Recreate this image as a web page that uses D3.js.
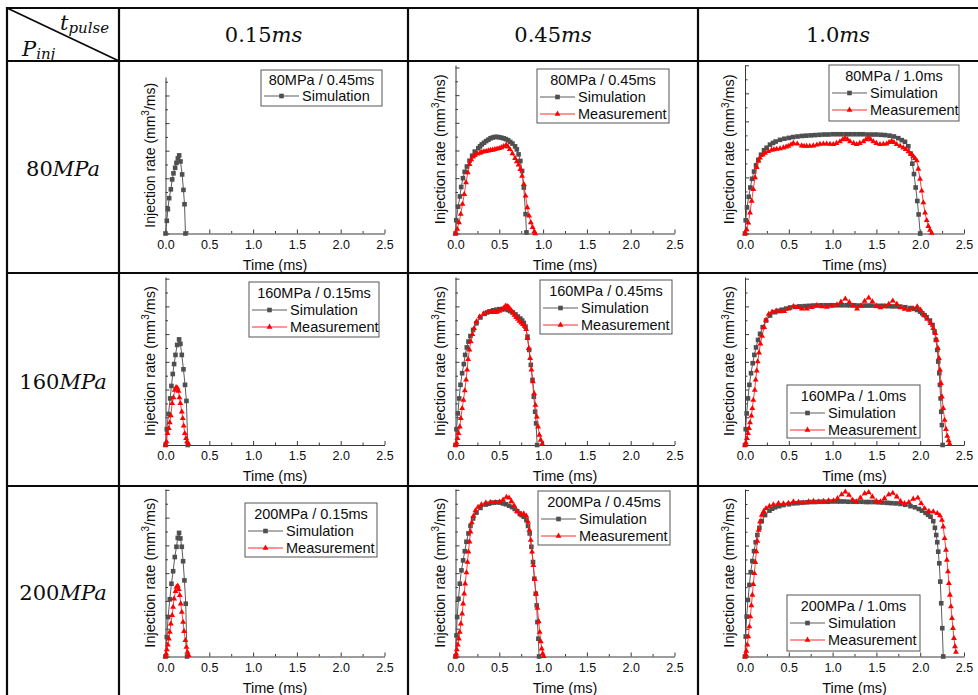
<!DOCTYPE html>
<html>
<head>
<meta charset="utf-8">
<script src="https://cdn.jsdelivr.net/npm/d3@7"></script>
<style>
  body { margin: 0; background: #fff; }
  svg text { font-family: "Liberation Sans", Arial, sans-serif; fill: #0d0d0d; }
  svg text.math { font-family: "DejaVu Serif", serif; }
</style>
</head>
<body>
<svg width="978" height="695"></svg>
<script>
// ---- data (time in ms, injection rate in mm3/ms) ----
const pulses = ['0.15', '0.45', '1.0'];
const pressures = ['80', '160', '200'];
const xTicks = [0, 0.5, 1.0, 1.5, 2.0, 2.5];
const xMinorTicks = [0.25, 0.75, 1.25, 1.75, 2.25];
const yTicks = [0, 10, 20, 30, 40, 50, 60];
const yMinorTicks = [5, 15, 25, 35, 45, 55];
const legendTitles = [
  ['80MPa / 0.45ms', '80MPa / 0.45ms', '80MPa / 1.0ms'],
  ['160MPa / 0.15ms', '160MPa / 0.45ms', '160MPa / 1.0ms'],
  ['200MPa / 0.15ms', '200MPa / 0.45ms', '200MPa / 1.0ms']
];

const sim80_015 = [[0,0],[0.015,4.6],[0.027,8.8],[0.042,12.8],[0.061,16.0],[0.076,19.6],[0.091,21.8],[0.110,23.8],
  [0.125,25.6],[0.141,27.2],[0.156,28.3],[0.171,26.1],[0.190,21.4],[0.205,15.8],[0.217,10.6],[0.228,0]];

const sim80_045 = [[0,0],[0.008,4.8],[0.03,9.7],[0.05,13.4],[0.065,16.8],[0.085,20.0],[0.105,22.3],[0.13,24.2],
  [0.16,26.3],[0.19,28.1],[0.22,29.6],[0.26,30.8],[0.28,31.5],[0.3,32.2],[0.325,32.8],[0.35,33.4],[0.375,33.9],
  [0.4,34.4],[0.425,34.7],[0.45,34.9],[0.475,34.9],[0.5,34.8],[0.525,34.6],[0.55,34.4],[0.575,34.1],[0.6,33.7],
  [0.625,33.1],[0.65,32.5],[0.68,31.5],[0.7,30.4],[0.72,28.6],[0.74,26.2],[0.76,22.6],[0.78,16.6],[0.8,7.0],[0.81,0.4]];
const meas80_045 = [[0,0],[0.02,1.6],[0.04,4.0],[0.06,7.0],[0.08,10.6],[0.1,14.2],[0.12,18.4],[0.14,22.0],[0.16,25.0],
  [0.18,26.7],[0.2,27.7],[0.22,28.3],[0.25,28.8],[0.28,29.1],[0.3,29.4],[0.325,29.6],[0.35,29.7],[0.375,29.9],
  [0.4,30.1],[0.425,30.2],[0.45,30.4],[0.475,30.6],[0.5,30.8],[0.525,31.1],[0.55,31.5],[0.58,32.0],[0.6,31.3],
  [0.62,30.4],[0.65,28.9],[0.68,27.2],[0.7,26.0],[0.72,24.8],[0.74,23.2],[0.76,20.8],[0.78,17.8],[0.8,13.6],
  [0.82,9.4],[0.84,6.4],[0.86,4.0],[0.88,2.2],[0.9,0.7],[0.91,0]];

const sim80_10 = [[0,0],[0.008,4.7],[0.023,9.3],[0.042,13.1],[0.061,16.4],[0.08,19.5],[0.103,22.1],[0.126,24.3],
  [0.152,26.3],[0.183,28.1],[0.217,29.7],[0.247,30.6],[0.285,31.7],[0.32,32.3],[0.35,32.8],[0.4,33.4],[0.45,33.8],
  [0.5,34.1],[0.55,34.4],[0.6,34.6],[0.65,34.8],[0.7,34.9],[0.75,35.0],[0.8,35.1],[0.85,35.2],[0.9,35.3],[0.95,35.3],
  [1.0,35.4],[1.05,35.4],[1.1,35.4],[1.15,35.4],[1.2,35.4],[1.25,35.4],[1.3,35.4],[1.35,35.4],[1.4,35.3],[1.45,35.3],
  [1.5,35.3],[1.55,35.2],[1.6,35.1],[1.65,34.9],[1.7,34.6],[1.75,34.0],[1.79,33.3],[1.826,32.7],[1.864,31.1],
  [1.891,28.5],[1.91,24.9],[1.929,21.2],[1.948,16.4],[1.967,11.6],[1.982,6.8],[2.0,0]];
const meas80_10 = [[0,0],[0.019,1.4],[0.038,3.8],[0.057,7.4],[0.076,11.6],[0.095,15.8],[0.114,20.0],[0.133,23.6],
  [0.152,25.8],[0.171,27.0],[0.202,28.1],[0.228,28.7],[0.266,29.3],[0.304,29.8],[0.33,29.9],[0.361,30.1],[0.4,30.3],
  [0.438,30.6],[0.47,30.9],[0.495,31.2],[0.525,31.7],[0.552,32.2],[0.597,32.0],[0.647,31.3],[0.675,31.2],[0.704,31.2],
  [0.74,31.2],[0.78,31.3],[0.82,31.6],[0.856,31.9],[0.895,32.0],[0.932,32.0],[0.97,31.9],[1.008,31.8],[1.045,32.2],
  [1.084,32.8],[1.115,33.5],[1.142,34.0],[1.17,33.5],[1.199,32.8],[1.24,32.2],[1.275,31.8],[1.31,32.2],[1.351,32.8],
  [1.38,33.5],[1.408,34.0],[1.435,33.5],[1.465,32.8],[1.5,32.2],[1.541,31.8],[1.58,31.9],[1.617,32.0],[1.645,32.5],
  [1.674,32.9],[1.70,32.5],[1.731,31.8],[1.77,31.2],[1.807,30.6],[1.835,30.0],[1.865,29.2],[1.895,28.3],[1.922,27.5],
  [1.94,26.8],[1.96,26.0],[1.979,23.0],[1.998,19.4],[2.017,15.2],[2.036,11.0],[2.055,7.4],[2.074,4.7],[2.093,2.6],
  [2.112,1.2],[2.131,0.2]];

const sim160_015 = [[0,0],[0.015,5.7],[0.034,11.2],[0.053,16.8],[0.068,21.3],[0.083,25.6],[0.098,29.2],[0.114,32.5],
  [0.133,36.1],[0.155,38.1],[0.170,36.5],[0.186,32.5],[0.205,27.3],[0.223,21.7],[0.239,15.9],[0.254,0]];
const meas160_015 = [[0,0],[0.011,1.2],[0.023,4.2],[0.038,6.0],[0.049,8.1],[0.061,10.6],[0.076,15.0],[0.091,17.1],
  [0.106,19.8],[0.121,20.8],[0.136,20.5],[0.148,19.5],[0.159,17.1],[0.170,15.0],[0.186,12.0],[0.197,9.6],
  [0.208,6.9],[0.220,4.2],[0.235,2.4],[0.246,1.2],[0.261,0.4]];

const sim160_045 = [[0,0],[0.011,5.7],[0.027,11.4],[0.042,16.8],[0.057,21.7],[0.076,25.9],[0.095,29.2],[0.110,32.5],
  [0.129,35.2],[0.148,37.3],[0.170,39.3],[0.201,41.5],[0.239,43.9],[0.284,46.0],[0.333,47.3],[0.36,47.8],[0.390,48.2],
  [0.43,48.6],[0.466,48.8],[0.5,49.0],[0.542,49.1],[0.57,49.0],[0.598,48.7],[0.625,48.3],[0.655,47.8],[0.685,47.1],
  [0.712,46.3],[0.74,45.6],[0.761,44.9],[0.78,44.0],[0.799,42.7],[0.822,39.1],[0.841,34.3],[0.860,28.9],[0.879,23.5],
  [0.894,17.4],[0.909,12.0],[0.920,7.8],[0.932,0]];
const meas160_045 = [[0,0],[0.011,0.8],[0.023,2.4],[0.034,4.2],[0.049,6.6],[0.061,9.6],[0.076,13.2],[0.091,16.2],
  [0.106,19.6],[0.121,23.5],[0.133,27.1],[0.144,30.9],[0.159,34.3],[0.174,37.3],[0.193,39.9],[0.212,42.1],
  [0.239,44.5],[0.277,46.3],[0.322,47.4],[0.371,47.9],[0.40,47.9],[0.428,47.9],[0.45,47.9],[0.473,48.0],[0.5,48.3],
  [0.523,48.7],[0.55,49.4],[0.572,50.2],[0.59,50.0],[0.606,49.7],[0.62,49.1],[0.636,48.5],[0.655,47.7],[0.674,46.9],
  [0.692,46.1],[0.712,45.4],[0.73,44.7],[0.750,44.1],[0.77,43.5],[0.788,42.9],[0.807,41.7],[0.822,38.5],[0.837,34.9],
  [0.852,31.3],[0.867,27.1],[0.883,22.9],[0.898,18.6],[0.913,14.4],[0.928,10.2],[0.943,6.6],[0.958,3.6],[0.973,1.8],
  [0.989,0.4]];

const sim160_10 = [[0,0],[0.008,5.7],[0.019,11.4],[0.034,16.8],[0.050,21.7],[0.069,25.9],[0.088,29.5],[0.107,32.5],
  [0.126,35.2],[0.149,37.9],[0.172,40.1],[0.202,42.5],[0.240,44.9],[0.286,46.7],[0.344,47.9],[0.38,48.4],[0.42,48.8],
  [0.47,49.2],[0.515,49.6],[0.57,49.8],[0.63,50.0],[0.68,50.1],[0.73,50.2],[0.78,50.3],[0.821,50.3],[0.87,50.4],
  [0.92,50.4],[0.97,50.4],[1.011,50.4],[1.06,50.4],[1.11,50.4],[1.16,50.4],[1.202,50.4],[1.25,50.4],[1.3,50.3],
  [1.35,50.3],[1.393,50.3],[1.44,50.3],[1.49,50.2],[1.54,50.2],[1.584,50.2],[1.63,50.1],[1.68,50.0],[1.73,50.0],
  [1.775,49.9],[1.83,49.7],[1.889,49.4],[1.93,49.1],[1.966,48.7],[2.0,48.1],[2.023,47.5],[2.05,46.8],[2.073,46.1],
  [2.111,44.9],[2.141,43.3],[2.164,40.9],[2.179,37.9],[2.195,34.3],[2.206,30.1],[2.218,25.9],[2.225,21.7],
  [2.233,16.8],[2.240,12.0],[2.248,7.2],[2.256,0]];
const meas160_10 = [[0,0],[0.011,0.8],[0.023,2.4],[0.034,4.2],[0.046,6.0],[0.057,8.1],[0.073,10.5],[0.084,13.2],
  [0.095,16.2],[0.111,19.8],[0.122,23.5],[0.134,26.8],[0.145,30.1],[0.160,33.3],[0.176,36.5],[0.195,39.3],
  [0.218,42.5],[0.240,45.1],[0.271,47.2],[0.309,48.0],[0.355,48.4],[0.401,48.1],[0.447,48.2],[0.496,49.1],
  [0.553,50.0],[0.599,49.7],[0.649,49.1],[0.706,49.1],[0.763,49.7],[0.821,50.4],[0.878,49.9],[0.935,49.8],
  [0.992,50.2],[1.050,50.6],[1.095,51.6],[1.145,52.7],[1.191,51.5],[1.233,50.2],[1.279,49.1],[1.324,50.2],
  [1.366,51.9],[1.412,53.1],[1.454,51.7],[1.500,50.2],[1.546,49.6],[1.595,49.9],[1.641,50.8],[1.687,52.0],
  [1.733,50.8],[1.775,49.6],[1.821,49.0],[1.870,48.7],[1.920,49.2],[1.966,49.9],[2.004,48.7],[2.042,46.9],
  [2.080,45.4],[2.118,43.9],[2.149,42.1],[2.172,40.3],[2.187,37.9],[2.202,34.9],[2.214,31.3],[2.225,27.1],
  [2.237,22.3],[2.248,17.4],[2.263,13.2],[2.279,9.0],[2.294,5.7],[2.309,3.2],[2.324,1.6],[2.336,0.4]];

const sim200_015 = [[0,0],[0.015,7.0],[0.030,14.2],[0.049,20.6],[0.068,26.2],[0.087,30.7],[0.106,35.8],[0.125,39.5],
  [0.140,42.7],[0.155,44.5],[0.170,42.5],[0.186,39.5],[0.201,34.3],[0.216,27.4],[0.231,19.0],[0.246,0]];
const meas200_015 = [[0,0],[0.008,1.0],[0.015,2.5],[0.027,4.2],[0.038,6.4],[0.049,8.8],[0.061,11.8],[0.076,14.8],
  [0.087,17.8],[0.098,20.8],[0.114,23.5],[0.125,25.0],[0.140,25.4],[0.152,24.2],[0.163,22.0],[0.174,19.0],
  [0.186,16.0],[0.201,12.4],[0.212,9.1],[0.227,5.8],[0.239,3.4],[0.250,1.6],[0.265,0.4]];

const sim200_045 = [[0,0],[0.011,7.6],[0.019,14.2],[0.034,20.8],[0.049,26.2],[0.068,31.0],[0.087,34.6],[0.106,37.9],
  [0.125,41.3],[0.148,44.3],[0.171,47.0],[0.201,49.7],[0.239,51.8],[0.285,53.5],[0.346,54.7],[0.38,55.0],[0.410,55.3],
  [0.44,55.4],[0.475,55.5],[0.51,55.4],[0.543,55.1],[0.575,54.8],[0.612,54.3],[0.645,53.8],[0.676,53.1],[0.705,52.3],
  [0.733,51.5],[0.755,50.9],[0.779,50.3],[0.809,49.1],[0.828,47.0],[0.847,44.3],[0.866,39.5],[0.885,34.0],
  [0.900,28.0],[0.916,22.6],[0.927,18.4],[0.935,12.4],[0.946,6.4],[0.954,0]];
const meas200_045 = [[0,0],[0.008,1.0],[0.015,2.5],[0.027,4.2],[0.038,6.4],[0.049,8.8],[0.061,11.8],[0.076,15.4],
  [0.087,19.0],[0.099,22.6],[0.110,26.2],[0.125,30.2],[0.137,34.0],[0.148,37.7],[0.160,41.3],[0.171,44.9],
  [0.186,48.2],[0.205,50.6],[0.228,52.5],[0.258,53.8],[0.296,54.7],[0.346,55.3],[0.399,55.5],[0.452,55.5],
  [0.505,55.7],[0.543,56.4],[0.581,57.4],[0.612,57.1],[0.638,55.9],[0.669,54.3],[0.703,52.3],[0.741,51.1],
  [0.779,51.4],[0.809,50.6],[0.828,48.5],[0.843,45.5],[0.859,41.9],[0.874,37.7],[0.889,32.8],[0.904,27.8],
  [0.919,22.6],[0.935,17.4],[0.950,12.6],[0.961,8.8],[0.973,5.4],[0.984,2.8],[0.995,1.0],[1.007,0.1]];

const sim200_10 = [[0,0],[0.008,7.2],[0.019,14.4],[0.034,20.4],[0.050,25.8],[0.065,30.4],[0.084,34.4],[0.103,38.0],
  [0.122,41.2],[0.141,43.8],[0.164,46.4],[0.191,48.8],[0.229,51.0],[0.279,52.6],[0.31,53.3],[0.344,53.8],[0.39,54.2],
  [0.439,54.6],[0.5,54.9],[0.553,55.2],[0.6,55.3],[0.65,55.5],[0.706,55.6],[0.75,55.7],[0.8,55.7],[0.85,55.8],
  [0.897,55.8],[0.95,55.8],[1.0,55.9],[1.05,55.9],[1.088,55.9],[1.13,55.9],[1.18,55.8],[1.23,55.8],[1.279,55.8],
  [1.33,55.8],[1.38,55.7],[1.42,55.7],[1.469,55.7],[1.52,55.6],[1.57,55.5],[1.622,55.4],[1.67,55.3],[1.72,55.2],
  [1.775,55.0],[1.83,54.7],[1.889,54.2],[1.94,53.8],[1.985,53.2],[2.02,52.6],[2.061,51.8],[2.09,51.1],[2.118,50.4],
  [2.149,48.8],[2.168,46.4],[2.183,43.8],[2.195,41.2],[2.206,37.8],[2.218,33.6],[2.229,27.0],[2.240,19.2],
  [2.252,10.2],[2.263,0]];
const meas200_10 = [[0,0],[0.008,0.8],[0.015,2.0],[0.027,4.2],[0.038,7.2],[0.050,10.8],[0.061,14.4],[0.073,18.4],
  [0.084,22.2],[0.095,26.0],[0.107,30.0],[0.118,34.0],[0.130,37.8],[0.141,41.6],[0.156,45.6],[0.172,48.6],
  [0.191,51.0],[0.214,52.4],[0.240,53.4],[0.279,54.2],[0.324,54.8],[0.382,55.2],[0.439,55.1],[0.496,55.3],
  [0.553,55.8],[0.611,55.7],[0.668,55.4],[0.725,55.8],[0.782,56.0],[0.840,55.8],[0.897,56.0],[0.954,56.2],
  [1.011,56.2],[1.057,57.0],[1.103,58.4],[1.145,59.4],[1.187,58.2],[1.229,56.4],[1.271,55.8],[1.317,57.2],
  [1.366,58.8],[1.412,59.2],[1.454,57.6],[1.500,56.0],[1.546,55.8],[1.592,57.0],[1.641,58.4],[1.687,58.9],
  [1.733,57.6],[1.775,56.0],[1.821,55.2],[1.870,55.6],[1.920,56.8],[1.973,57.2],[2.011,55.2],[2.050,53.4],
  [2.099,52.4],[2.149,52.2],[2.195,51.6],[2.225,50.8],[2.248,49.2],[2.263,46.8],[2.279,42.6],[2.294,38.4],
  [2.305,34.8],[2.317,30.6],[2.328,26.4],[2.340,22.2],[2.351,18.0],[2.363,13.8],[2.374,10.2],[2.385,6.6],
  [2.397,3.6],[2.408,1.6]];

// ---- layout ----
const svg = d3.select('svg');
const colX = [7, 119, 408, 698, 978];
const rowY = [8, 61, 273, 486, 695];
const plotLeft = [165.5, 455.5, 745];
const plotW = 219;
const plotBottom = [233.5, 445, 656.5];
const plotTop = [[77, 65, 65], [277, 277, 277], [489, 489, 489]];
const yMax = [[56.7, 60.9, 60.1], [60.6, 60.6, 60.6], [60.3, 60.3, 60.4]];

const panels = [
  { r: 0, c: 0, sim: sim80_015, meas: null, box: [261, 70, 121, 36] },
  { r: 0, c: 1, sim: sim80_045, meas: meas80_045, box: [537, 69, 132, 54] },
  { r: 0, c: 2, sim: sim80_10, meas: meas80_10, box: [829, 65, 130, 56] },
  { r: 1, c: 0, sim: sim160_015, meas: meas160_015, box: [249, 282, 130, 55] },
  { r: 1, c: 1, sim: sim160_045, meas: meas160_045, box: [540, 280, 132, 54] },
  { r: 1, c: 2, sim: sim160_10, meas: meas160_10, box: [787, 385, 133, 53] },
  { r: 2, c: 0, sim: sim200_015, meas: meas200_015, box: [245, 503, 132, 54] },
  { r: 2, c: 1, sim: sim200_045, meas: meas200_045, box: [538, 491, 132, 54] },
  { r: 2, c: 2, sim: sim200_10, meas: meas200_10, box: [787, 595, 133, 56] }
];

const simColor = '#4f4f4f';
const measColor = '#ff0000';
const triangle = d3.symbol().type(d3.symbolTriangle).size(15);

// ---- table grid ----
const grid = svg.append('g').attr('stroke', '#0a0a0a').attr('stroke-width', 2.2);
rowY.slice(0, 4).forEach(y => grid.append('line').attr('x1', colX[0] - 1).attr('x2', 978).attr('y1', y).attr('y2', y));
colX.slice(0, 4).forEach(x => grid.append('line').attr('x1', x).attr('x2', x).attr('y1', rowY[0] - 1).attr('y2', 695));
grid.append('line').attr('x1', colX[0]).attr('y1', rowY[0]).attr('x2', colX[1]).attr('y2', rowY[1]).attr('stroke-width', 1.8);

// corner header: t_pulse / P_inj
const tp = svg.append('text').attr('class', 'math').attr('x', 60).attr('y', 30).attr('font-style', 'italic');
tp.append('tspan').attr('font-size', 21).text('t');
tp.append('tspan').attr('font-size', 15).attr('dy', 3).text('pulse');
const pi = svg.append('text').attr('class', 'math').attr('x', 22).attr('y', 56).attr('font-style', 'italic');
pi.append('tspan').attr('font-size', 21).text('P');
pi.append('tspan').attr('font-size', 15).attr('dy', 3).text('inj');

// column headers
pulses.forEach((p, i) => {
  const t = svg.append('text').attr('class', 'math')
    .attr('x', (colX[i + 1] + colX[i + 2]) / 2).attr('y', 42)
    .attr('text-anchor', 'middle').attr('font-size', 21);
  t.append('tspan').text(p);
  t.append('tspan').attr('font-style', 'italic').text('ms');
});

// row headers
pressures.forEach((p, i) => {
  const t = svg.append('text').attr('class', 'math')
    .attr('x', (colX[0] + colX[1]) / 2).attr('y', (rowY[i + 1] + rowY[i + 2]) / 2 + 9)
    .attr('text-anchor', 'middle').attr('font-size', 21);
  t.append('tspan').text(p);
  t.append('tspan').attr('font-style', 'italic').text('MPa');
});

// ---- panels ----
panels.forEach(pn => {
  const left = plotLeft[pn.c];
  const bottom = plotBottom[pn.r];
  const top = plotTop[pn.r][pn.c];

  const xScale = d3.scaleLinear().domain([0, 2.5]).range([left, left + plotW]);
  const yScale = d3.scaleLinear().domain([0, yMax[pn.r][pn.c]]).range([bottom, top]);

  const g = svg.append('g');

  // x axis, ticks pointing inward
  const xAxisG = g.append('g').attr('transform', `translate(0,${bottom})`)
    .call(d3.axisBottom(xScale).tickValues(xTicks).tickFormat(d3.format('.1f'))
      .tickSizeInner(-4).tickSizeOuter(0).tickPadding(6.5));
  g.append('g').attr('transform', `translate(0,${bottom})`)
    .call(d3.axisBottom(xScale).tickValues(xMinorTicks).tickFormat('').tickSizeInner(-2.5).tickSizeOuter(0))
    .select('.domain').remove();
  xAxisG.selectAll('text').attr('font-size', 12.5).attr('font-family', null).attr('fill', '#0d0d0d');

  // y axis, no labels
  g.append('g').attr('transform', `translate(${left},0)`)
    .call(d3.axisLeft(yScale).tickValues(yTicks.filter(v => v <= yMax[pn.r][pn.c])).tickFormat('')
      .tickSizeInner(-4).tickSizeOuter(0));
  g.append('g').attr('transform', `translate(${left},0)`)
    .call(d3.axisLeft(yScale).tickValues(yMinorTicks).tickFormat('').tickSizeInner(-2.5).tickSizeOuter(0))
    .select('.domain').remove();
  g.selectAll('.domain, .tick line').attr('stroke', '#3a3a3a');

  // axis titles
  const fs = pn.r === 0 && pn.c === 0 ? 14 : 14.5;
  g.append('text').attr('x', left + plotW / 2).attr('y', bottom + 36)
    .attr('text-anchor', 'middle').attr('font-size', 14.5).text('Time (ms)');
  const yl = g.append('text')
    .attr('transform', `translate(${left - 11},${(top + bottom) / 2}) rotate(-90)`)
    .attr('text-anchor', 'middle').attr('font-size', fs);
  yl.append('tspan').text('Injection rate (mm');
  yl.append('tspan').attr('font-size', 10).attr('dy', -5.5).text('3');
  yl.append('tspan').attr('dy', 5.5).text('/ms)');

  const line = d3.line().x(d => xScale(d[0])).y(d => yScale(d[1]));

  // simulation
  g.append('path').datum(pn.sim).attr('d', line)
    .attr('fill', 'none').attr('stroke', '#5c5c5c').attr('stroke-width', 1);
  g.append('g').selectAll('rect').data(pn.sim).enter().append('rect')
    .attr('x', d => xScale(d[0]) - 2.3).attr('y', d => yScale(d[1]) - 2.3)
    .attr('width', 4.6).attr('height', 4.6).attr('fill', simColor);

  // measurement
  if (pn.meas) {
    g.append('path').datum(pn.meas).attr('d', line)
      .attr('fill', 'none').attr('stroke', '#ff2a2a').attr('stroke-width', 0.9);
    g.append('g').selectAll('path').data(pn.meas).enter().append('path')
      .attr('d', triangle)
      .attr('transform', d => `translate(${xScale(d[0])},${yScale(d[1])})`)
      .attr('fill', measColor);
  }

  // legend
  const [bx, by, bw, bh] = pn.box;
  const lg = g.append('g');
  lg.append('rect').attr('x', bx).attr('y', by).attr('width', bw).attr('height', bh)
    .attr('fill', '#fff').attr('stroke', '#555').attr('stroke-width', 1);
  const rowsY = pn.meas ? [by + 11, by + 28, by + 45] : [by + 9.5, by + 26];
  lg.append('text').attr('x', bx + bw / 2).attr('y', rowsY[0]).attr('dy', '0.36em')
    .attr('text-anchor', 'middle').attr('font-size', 14.5).text(legendTitles[pn.r][pn.c]);

  const entries = [{ name: 'Simulation', color: '#5c5c5c', y: rowsY[1], kind: 'sq' }];
  if (pn.meas) entries.push({ name: 'Measurement', color: '#ff2a2a', y: rowsY[2], kind: 'tri' });
  entries.forEach(e => {
    lg.append('line').attr('x1', bx + 3).attr('x2', bx + 38).attr('y1', e.y).attr('y2', e.y)
      .attr('stroke', e.color).attr('stroke-width', 1);
    if (e.kind === 'sq') {
      lg.append('rect').attr('x', bx + 18.2).attr('y', e.y - 2.3).attr('width', 4.6).attr('height', 4.6).attr('fill', simColor);
    } else {
      lg.append('path').attr('d', triangle).attr('transform', `translate(${bx + 20.5},${e.y})`).attr('fill', measColor);
    }
    lg.append('text').attr('x', bx + 41).attr('y', e.y).attr('dy', '0.36em')
      .attr('font-size', 14.5).text(e.name);
  });
});
</script>
</body>
</html>
